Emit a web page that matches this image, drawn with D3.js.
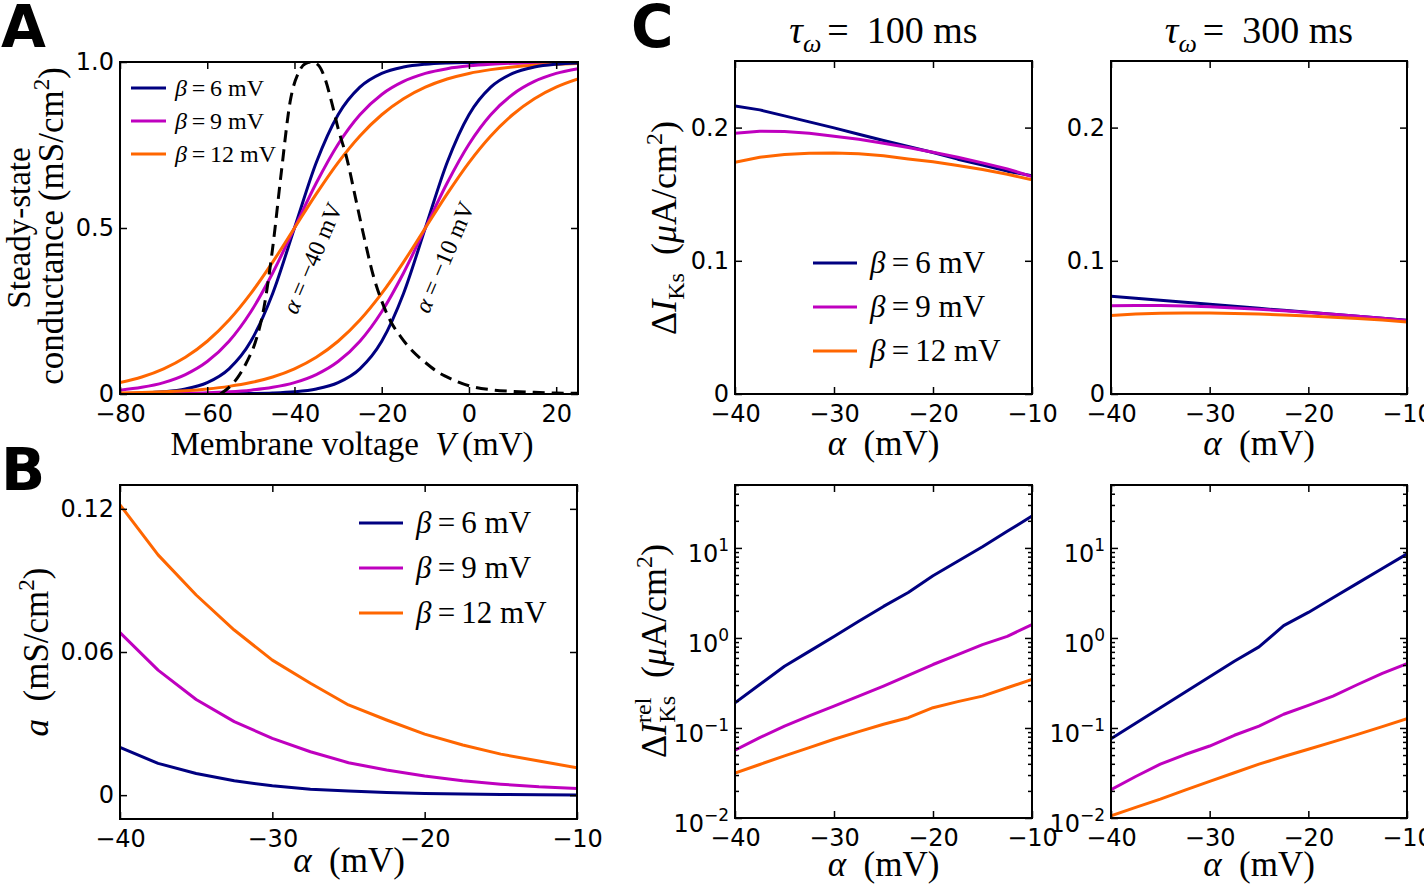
<!DOCTYPE html>
<html><head><meta charset="utf-8">
<script src="https://cdn.jsdelivr.net/npm/d3@7"></script>
<style>
body{margin:0;background:#fff;}
.serif{font-family:"Liberation Serif","DejaVu Serif",serif;}
.plabel{font-family:"DejaVu Sans",sans-serif;font-weight:bold;font-size:58px;}
</style></head><body>
<svg id="fig" width="1424" height="888" xmlns="http://www.w3.org/2000/svg"></svg>
<script>
// ---------------- DATA ----------------
const betaLabels = ["6", "9", "12"];
const seriesColors = ["#000080", "#bf00bf", "#ff6600"];

// Panel A: steady-state conductance vs membrane voltage
const voltageA = [-80,-75,-70,-65,-60,-55,-50,-45,-40,-35,-30,-25,-20,-15,-10,-5,0,5,10,15,20,25];
const gAlpha40_b6  = [0.0013,0.0029,0.0067,0.0153,0.0344,0.0759,0.1589,0.3029,0.5,0.6971,0.8411,0.9241,0.9656,0.9847,0.9933,0.9971,0.9987,0.9994,0.9998,0.9999,1.0,1.0];
const gAlpha40_b9  = [0.0116,0.0201,0.0344,0.0586,0.0978,0.1589,0.2477,0.3646,0.5,0.6354,0.7523,0.8411,0.9022,0.9414,0.9656,0.9799,0.9884,0.9933,0.9962,0.9978,0.9987,0.9993];
const gAlpha40_b12 = [0.0344,0.0513,0.0759,0.1107,0.1589,0.2227,0.3029,0.3973,0.5,0.6027,0.6971,0.7773,0.8411,0.8893,0.9241,0.9487,0.9656,0.9770,0.9847,0.9899,0.9933,0.9956];
const gAlpha10_b6  = [0,0,0,0.0001,0.0002,0.0006,0.0013,0.0029,0.0067,0.0153,0.0344,0.0759,0.1589,0.3029,0.5,0.6971,0.8411,0.9241,0.9656,0.9847,0.9933,0.9971];
const gAlpha10_b9  = [0.0004,0.0007,0.0013,0.0022,0.0038,0.0067,0.0116,0.0201,0.0344,0.0586,0.0978,0.1589,0.2477,0.3646,0.5,0.6354,0.7523,0.8411,0.9022,0.9414,0.9656,0.9799];
const gAlpha10_b12 = [0.0029,0.0044,0.0067,0.0101,0.0153,0.0230,0.0344,0.0513,0.0759,0.1107,0.1589,0.2227,0.3029,0.3973,0.5,0.6027,0.6971,0.7773,0.8411,0.8893,0.9241,0.9487];
// dashed voltage distribution (normalised)
const distV   = [-57,-55,-53,-51,-49,-47,-45,-43,-41,-39,-37.5,-36,-34.5,-33,-31.5,-30,-28,-26,-24,-22,-20,-18,-15.5,-13,-10,-7,-4,0,5,10,15,20,25];
const distVal = [0.0,0.02,0.05,0.095,0.155,0.26,0.44,0.67,0.88,0.97,0.995,1.0,0.99,0.95,0.88,0.80,0.71,0.59,0.47,0.36,0.28,0.22,0.17,0.13,0.095,0.065,0.045,0.025,0.013,0.008,0.005,0.003,0.002];
const annotAV = [-40, -10];

// Panels B, C: alpha grid
const alphaGrid = [-40,-37.5,-35,-32.5,-30,-27.5,-25,-22.5,-20,-17.5,-15,-12.5,-10];
// Panel B: a (mS/cm^2)
const aB_b6  = [0.0200,0.0133,0.0091,0.0060,0.0039,0.0025,0.0017,0.0011,0.0007,0.0005,0.0003,0.0002,0.0001];
const aB_b9  = [0.0681,0.0524,0.0401,0.0308,0.0238,0.0182,0.0136,0.0105,0.0080,0.0060,0.0046,0.0035,0.0028];
const aB_b12 = [0.1217,0.1007,0.0839,0.0692,0.0566,0.0469,0.0378,0.0315,0.0256,0.0210,0.0172,0.0143,0.0115];
// Panel C top: Delta I_Ks
const dI100_b6  = [0.2163,0.2133,0.2088,0.2043,0.1998,0.1950,0.1903,0.1858,0.1813,0.1763,0.1718,0.1673,0.1638];
const dI100_b9  = [0.1958,0.1973,0.1970,0.1958,0.1935,0.1913,0.1883,0.1850,0.1815,0.1778,0.1735,0.1690,0.1633];
const dI100_b12 = [0.1740,0.1778,0.1798,0.1808,0.1810,0.1803,0.1788,0.1765,0.1743,0.1715,0.1685,0.1650,0.1608];
const dI300_b6  = [0.0733,0.0718,0.0703,0.0688,0.0673,0.0658,0.0643,0.0628,0.0613,0.0598,0.0583,0.0568,0.0553];
const dI300_b9  = [0.0662,0.0665,0.0665,0.0661,0.0655,0.0646,0.0636,0.0625,0.0612,0.0598,0.0584,0.0569,0.0551];
const dI300_b12 = [0.0590,0.0600,0.0606,0.0608,0.0608,0.0605,0.0600,0.0594,0.0586,0.0577,0.0567,0.0555,0.0540];
// Panel C bottom: Delta I_Ks^rel (log)
const rel100_b6  = [0.19,0.304,0.485,0.71,1.04,1.53,2.24,3.2,4.9,7.1,10.3,15.3,22.6];
const rel100_b9  = [0.0566,0.078,0.105,0.136,0.175,0.226,0.292,0.383,0.507,0.653,0.844,1.04,1.41];
const rel100_b12 = [0.0315,0.0393,0.049,0.0606,0.075,0.091,0.11,0.13,0.168,0.196,0.226,0.28,0.346];
const rel300_b6  = [0.076,0.113,0.168,0.25,0.37,0.552,0.795,1.37,1.92,2.8,4.06,5.9,8.58];
const rel300_b9  = [0.0206,0.0289,0.0396,0.0507,0.063,0.083,0.105,0.142,0.178,0.226,0.304,0.403,0.52];
const rel300_b12 = [0.0106,0.0131,0.0162,0.0204,0.0255,0.0318,0.0396,0.0482,0.058,0.07,0.085,0.1035,0.127];

// tick values
const xTicksA = [-80,-60,-40,-20,0,20];
const yTicksA = [0,0.5,1.0];
const xTicksAlpha = [-40,-30,-20,-10];
const yTicksB = [0,0.06,0.12];
const yTicksC = [0,0.1,0.2];
const yTicksLog = [0.01,0.1,1,10];
const tauTitles = ["100", "300"];

// ---------------- DRAWING ----------------
const svg = d3.select("#fig");
let clipN = 0;
const zip = (xs, ys) => xs.map((v, i) => [v, ys[i]]);

function panel(cfg) {
  const x = d3.scaleLinear().domain(cfg.xDomain).range([cfg.left, cfg.right]);
  const y = (cfg.log ? d3.scaleLog() : d3.scaleLinear()).domain(cfg.yDomain).range([cfg.bottom, cfg.top]);
  const g = svg.append("g");
  const cid = "clip" + (clipN++);
  svg.append("clipPath").attr("id", cid).append("rect")
    .attr("x", cfg.left).attr("y", cfg.top)
    .attr("width", cfg.right - cfg.left).attr("height", cfg.bottom - cfg.top);
  const plot = g.append("g").attr("clip-path", `url(#${cid})`);
  const axes = g.append("g");
  const style = sel => {
    sel.select(".domain").remove();
    sel.selectAll(".tick line").attr("stroke", "#000").attr("stroke-width", 1.5);
    sel.attr("font-family", "DejaVu Sans, sans-serif").attr("font-size", 24);
    sel.selectAll(".tick text").attr("fill", "#000");
  };
  axes.append("g").attr("transform", `translate(0,${cfg.bottom})`)
    .call(d3.axisBottom(x).tickValues(cfg.xTicks).tickSize(-7).tickPadding(11).tickFormat(d3.format("d"))).call(style);
  axes.append("g").attr("transform", `translate(0,${cfg.top})`)
    .call(d3.axisTop(x).tickValues(cfg.xTicks).tickSize(-7).tickFormat("")).call(style);
  const left = axes.append("g").attr("transform", `translate(${cfg.left},0)`)
    .call(d3.axisLeft(y).tickValues(cfg.yTicks).tickSize(-7).tickPadding(6).tickFormat(cfg.log ? () => "" : cfg.yFmt)).call(style);
  axes.append("g").attr("transform", `translate(${cfg.right},0)`)
    .call(d3.axisRight(y).tickValues(cfg.yTicks).tickSize(-7).tickFormat("")).call(style);
  if (cfg.log) {
    const minors = [];
    [0.01, 0.1, 1, 10].forEach(dec => { for (let k = 2; k <= 9; k++) { const v = dec * k; if (v <= cfg.yDomain[1]) minors.push(v); } });
    axes.append("g").attr("transform", `translate(${cfg.left},0)`)
      .call(d3.axisLeft(y).tickValues(minors).tickSize(-4).tickFormat("")).call(style);
    axes.append("g").attr("transform", `translate(${cfg.right},0)`)
      .call(d3.axisRight(y).tickValues(minors).tickSize(-4).tickFormat("")).call(style);
    left.selectAll(".tick text").each(function(d) {
      const t = d3.select(this).attr("dy", "0.55em");
      t.text(null);
      t.append("tspan").text("10");
      t.append("tspan").attr("font-size", 17).attr("dy", -11)
        .text(String(Math.round(Math.log10(d))).replace("-", "\u2212"));
    });
  }
  g.append("rect").attr("x", cfg.left).attr("y", cfg.top)
    .attr("width", cfg.right - cfg.left).attr("height", cfg.bottom - cfg.top)
    .attr("fill", "none").attr("stroke", "#000").attr("stroke-width", 2);
  return {x, y, plot, g};
}

function drawLines(p, xs, ysList, curve) {
  const line = d3.line().x(d => p.x(d[0])).y(d => p.y(d[1])).curve(curve || d3.curveLinear);
  ysList.forEach((ys, i) => {
    p.plot.append("path").datum(zip(xs, ys)).attr("d", line)
      .attr("fill", "none").attr("stroke", seriesColors[i]).attr("stroke-width", 3)
      .attr("stroke-linejoin", "round");
  });
}

function legend(x0, x1, xText, rows, fontSize) {
  betaLabels.forEach((b, i) => {
    svg.append("line").attr("x1", x0).attr("x2", x1).attr("y1", rows[i]).attr("y2", rows[i])
      .attr("stroke", seriesColors[i]).attr("stroke-width", 3);
    const t = svg.append("text").attr("class", "serif").attr("x", xText).attr("y", rows[i])
      .attr("dy", "0.33em").attr("font-size", fontSize);
    t.append("tspan").attr("font-style", "italic").text("\u03b2");
    t.append("tspan").text("\u2009=\u2009" + b + " mV");
  });
}

function fmtFixed(n) { return d => d === 0 ? "0" : d3.format("." + n + "f")(d); }

// ---- Panel A ----
const pA = panel({left: 120, right: 578, top: 62, bottom: 394, xDomain: [-80, 25], yDomain: [0, 1],
  xTicks: xTicksA, yTicks: yTicksA, yFmt: fmtFixed(1)});
drawLines(pA, voltageA, [gAlpha40_b6, gAlpha40_b9, gAlpha40_b12], d3.curveMonotoneX);
drawLines(pA, voltageA, [gAlpha10_b6, gAlpha10_b9, gAlpha10_b12], d3.curveMonotoneX);
pA.plot.append("path").datum(zip(distV, distVal))
  .attr("d", d3.line().x(d => pA.x(d[0])).y(d => pA.y(d[1])).curve(d3.curveMonotoneX))
  .attr("fill", "none").attr("stroke", "#000").attr("stroke-width", 3).attr("stroke-dasharray", "12,7");
legend(131, 166, 175, [88, 121, 154], 24);
// rotated annotations
[[312, 258], [444, 257]].forEach((c, i) => {
  const t = svg.append("text").attr("class", "serif").attr("font-size", 24)
    .attr("text-anchor", "middle").attr("dy", "0.35em")
    .attr("transform", `translate(${c[0]},${c[1]}) rotate(-67)`);
  t.append("tspan").attr("font-style", "italic").text("\u03b1");
  t.append("tspan").text(" = \u2212" + Math.abs(annotAV[i]) + " mV");
});
svg.append("text").attr("class", "serif").attr("font-size", 33).attr("text-anchor", "middle")
  .attr("transform", "translate(30,228) rotate(-90)").text("Steady-state");
{
  const t = svg.append("text").attr("class", "serif").attr("font-size", 35).attr("text-anchor", "middle")
    .attr("transform", "translate(63,226) rotate(-90)");
  t.append("tspan").text("conductance (mS/cm");
  t.append("tspan").attr("font-size", 23).attr("dy", -14).text("2");
  t.append("tspan").attr("dy", 14).text(")");
}
{
  const t = svg.append("text").attr("class", "serif").attr("font-size", 33).attr("text-anchor", "middle")
    .attr("x", 352).attr("y", 455);
  t.append("tspan").text("Membrane voltage\u00a0\u00a0");
  t.append("tspan").attr("font-style", "italic").text("V");
  t.append("tspan").text("\u2009(mV)");
}

// ---- Panel B ----
const pB = panel({left: 120, right: 577, top: 485, bottom: 819, xDomain: [-40, -10], yDomain: [-0.01, 0.13],
  xTicks: xTicksAlpha, yTicks: yTicksB, yFmt: fmtFixed(2)});
drawLines(pB, alphaGrid, [aB_b6, aB_b9, aB_b12]);
legend(359, 403, 416, [523, 568, 613], 31);
{
  const t = svg.append("text").attr("class", "serif").attr("font-size", 35).attr("text-anchor", "middle")
    .attr("transform", "translate(48,652) rotate(-90)");
  t.append("tspan").attr("font-style", "italic").text("a");
  t.append("tspan").text("\u2002(mS/cm");
  t.append("tspan").attr("font-size", 23).attr("dy", -14).text("2");
  t.append("tspan").attr("dy", 14).text(")");
}

function alphaLabel(cx, y) {
  const t = svg.append("text").attr("class", "serif").attr("font-size", 35).attr("text-anchor", "middle")
    .attr("x", cx).attr("y", y);
  t.append("tspan").attr("font-style", "italic").text("\u03b1");
  t.append("tspan").text("\u2002(mV)");
}
alphaLabel(349, 872);

// ---- Panel C ----
const pC1 = panel({left: 735, right: 1032, top: 61, bottom: 394, xDomain: [-40, -10], yDomain: [0, 0.25],
  xTicks: xTicksAlpha, yTicks: yTicksC, yFmt: fmtFixed(1)});
drawLines(pC1, alphaGrid, [dI100_b6, dI100_b9, dI100_b12]);
legend(813, 857, 870, [263, 307, 351], 31);
const pC2 = panel({left: 1111, right: 1407, top: 61, bottom: 394, xDomain: [-40, -10], yDomain: [0, 0.25],
  xTicks: xTicksAlpha, yTicks: yTicksC, yFmt: fmtFixed(1)});
drawLines(pC2, alphaGrid, [dI300_b6, dI300_b9, dI300_b12]);
const pC3 = panel({left: 735, right: 1032, top: 485, bottom: 818, xDomain: [-40, -10], yDomain: [0.01, 50], log: true,
  xTicks: xTicksAlpha, yTicks: yTicksLog});
drawLines(pC3, alphaGrid, [rel100_b6, rel100_b9, rel100_b12]);
const pC4 = panel({left: 1111, right: 1407, top: 485, bottom: 818, xDomain: [-40, -10], yDomain: [0.01, 50], log: true,
  xTicks: xTicksAlpha, yTicks: yTicksLog});
drawLines(pC4, alphaGrid, [rel300_b6, rel300_b9, rel300_b12]);

[883.5, 1259].forEach((cx, i) => {
  alphaLabel(cx, 455);
  alphaLabel(cx, 876);
  const t = svg.append("text").attr("class", "serif").attr("font-size", 38).attr("text-anchor", "middle")
    .attr("x", cx).attr("y", 43);
  t.append("tspan").attr("font-style", "italic").text("\u03c4");
  t.append("tspan").attr("font-style", "italic").attr("font-size", 26).attr("dy", 9).text("\u03c9");
  t.append("tspan").attr("dy", -9).attr("dx", 6).text("=");
  t.append("tspan").attr("dx", 18).text(tauTitles[i] + " ms");
});
{
  const t = svg.append("text").attr("class", "serif").attr("font-size", 36).attr("text-anchor", "middle")
    .attr("transform", "translate(676,228) rotate(-90)");
  t.append("tspan").text("\u0394");
  t.append("tspan").attr("font-style", "italic").text("I");
  t.append("tspan").attr("font-size", 24).attr("dy", 8).text("Ks");
  t.append("tspan").attr("dy", -8).text("\u2002(");
  t.append("tspan").attr("font-style", "italic").text("\u03bc");
  t.append("tspan").text("A/cm");
  t.append("tspan").attr("font-size", 24).attr("dy", -14).text("2");
  t.append("tspan").attr("dy", 14).text(")");
}
{
  const t = svg.append("text").attr("class", "serif").attr("font-size", 36).attr("text-anchor", "middle")
    .attr("transform", "translate(666,651) rotate(-90)");
  t.append("tspan").text("\u0394");
  t.append("tspan").attr("font-style", "italic").text("I");
  t.append("tspan").attr("font-size", 24).attr("dy", -15).text("rel");
  t.append("tspan").attr("font-size", 24).attr("dx", -25).attr("dy", 24).text("Ks");
  t.append("tspan").attr("dy", -9).text("\u2002(");
  t.append("tspan").attr("font-style", "italic").text("\u03bc");
  t.append("tspan").text("A/cm");
  t.append("tspan").attr("font-size", 24).attr("dy", -14).text("2");
  t.append("tspan").attr("dy", 14).text(")");
}

// panel letters
svg.append("text").attr("class", "plabel").attr("x", 1).attr("y", 47).text("A");
svg.append("text").attr("class", "plabel").attr("x", 1).attr("y", 490).text("B");
svg.append("text").attr("class", "plabel").attr("x", 631).attr("y", 47).text("C");
</script></body></html>
